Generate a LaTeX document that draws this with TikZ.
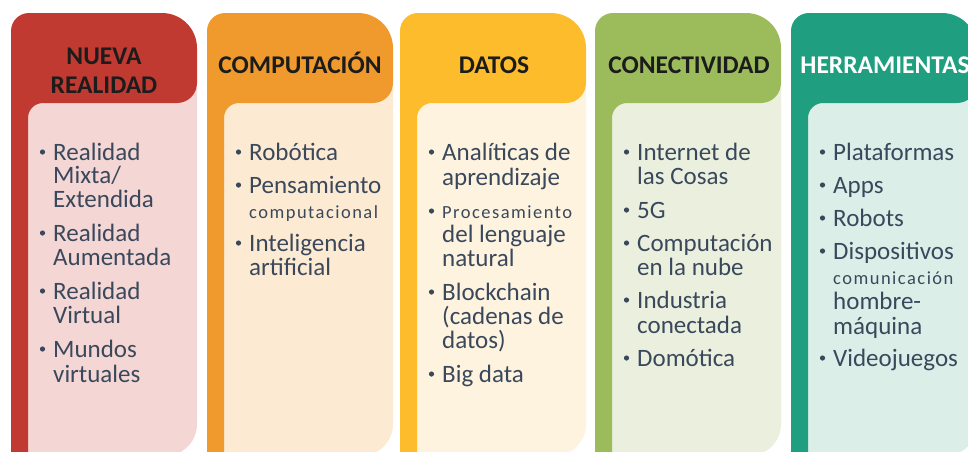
\documentclass[tikz,border=0pt]{standalone}
\usepackage{fontspec}
\setmainfont{Carlito}

\definecolor{nrDark}{HTML}{C13A31}
\definecolor{nrLight}{HTML}{F4D6D4}
\definecolor{coDark}{HTML}{F09A2D}
\definecolor{coLight}{HTML}{FDEAD2}
\definecolor{daDark}{HTML}{FCBC2C}
\definecolor{daLight}{HTML}{FEF3DF}
\definecolor{cnDark}{HTML}{9CBB5B}
\definecolor{cnLight}{HTML}{EBF0DE}
\definecolor{heDark}{HTML}{1F9F80}
\definecolor{heLight}{HTML}{DCEEE8}
\definecolor{itemText}{HTML}{3A485C}
\definecolor{headText}{HTML}{1C1C1C}

% One column: #1 left edge, #2 header colour, #3 body colour
\newcommand\columnshape[3]{%
  \fill[#3] ({#1+17},88) -- ({#1+186},88) -- ({#1+186},424)
     .. controls ({#1+186},441.7) and ({#1+171.7},456) .. ({#1+154},456)
     -- ({#1+17},456) -- cycle;
  \fill[#2] (#1,456) -- (#1,31)
     .. controls (#1,21.06) and ({#1+8.06},13) .. ({#1+18},13)
     -- ({#1+151},13)
     .. controls ({#1+170.3},13) and ({#1+186},28.7) .. ({#1+186},48)
     -- ({#1+186},83)
     .. controls ({#1+186},94.04) and ({#1+177.04},103) .. ({#1+166},103)
     -- ({#1+32},103)
     .. controls ({#1+23.72},103) and ({#1+17},109.72) .. ({#1+17},118)
     -- ({#1+17},456) -- cycle;
}

\begin{document}
\begin{tikzpicture}[x=1pt,y=-1pt,
  item/.style={anchor=base west, inner sep=0pt, text=itemText,
    font=\fontsize{25}{25}\selectfont},
  note/.style={anchor=base west, inner sep=0pt, text=itemText,
    font=\fontsize{18.5}{18.5}\selectfont\addfontfeature{LetterSpace=8}},
  dot/.style={circle, fill=itemText, inner sep=0pt, minimum size=5.2pt},
  head/.style={anchor=base, inner sep=0pt, text=headText,
    font=\fontsize{25.5}{25.5}\selectfont\bfseries}]
\useasboundingbox (0,0) rectangle (968,451);
\clip (0,0) rectangle (968,451);

\columnshape{11}{nrDark}{nrLight}
\columnshape{207}{coDark}{coLight}
\columnshape{400}{daDark}{daLight}
\columnshape{595}{cnDark}{cnLight}
\columnshape{791}{heDark}{heLight}

% Headers
\node[head] (h1a) at (104,64) {NUEVA};
\node[head] (h1b) at (104,93) {REALIDAD};
\node[head] (h2) at (300,73) {COMPUTACIÓN};
\node[head] (h3) at (494,73) {DATOS};
\node[head] (h4) at (689,73) {CONECTIVIDAD};
\node[head, text=white] (h5) at (885,73) {HERRAMIENTAS};

% Nueva realidad
\node[dot] (d1a) at (42.5,152) {};
\node[item] (t1a) at (53,160) {Realidad};
\node[item] (t1b) at (53,183) {Mixta/};
\node[item] (t1c) at (53,207) {Extendida};
\node[dot] (d1b) at (42.5,233) {};
\node[item] (t1d) at (53,241) {Realidad};
\node[item] (t1e) at (53,265) {Aumentada};
\node[dot] (d1c) at (42.5,291) {};
\node[item] (t1f) at (53,299) {Realidad};
\node[item] (t1g) at (53,323) {Virtual};
\node[dot] (d1d) at (42.5,349) {};
\node[item] (t1h) at (53,357) {Mundos};
\node[item] (t1i) at (53,382) {virtuales};

% Computación
\node[dot] (d2a) at (238.5,152) {};
\node[item] (t2a) at (249,160) {Robótica};
\node[dot] (d2b) at (238.5,185) {};
\node[item] (t2b) at (249,193) {Pensamiento};
\node[note] (t2c) at (249,218) {computacional};
\node[dot] (d2c) at (238.5,243) {};
\node[item] (t2d) at (249,251) {Inteligencia};
\node[item] (t2e) at (249,275) {artificial};

% Datos
\node[dot] (d3a) at (431.5,152) {};
\node[item] (t3a) at (442,160) {Analíticas de};
\node[item] (t3b) at (442,185) {aprendizaje};
\node[dot] (d3b) at (431.5,211) {};
\node[note] (t3c) at (442,218) {Procesamiento};
\node[item] (t3d) at (442,242) {del lenguaje};
\node[item] (t3e) at (442,266) {natural};
\node[dot] (d3c) at (431.5,292) {};
\node[item] (t3f) at (442,300) {Blockchain};
\node[item] (t3g) at (442,324) {(cadenas de};
\node[item] (t3h) at (442,348) {datos)};
\node[dot] (d3d) at (431.5,374) {};
\node[item] (t3i) at (442,382) {Big data};

% Conectividad
\node[dot] (d4a) at (626.5,152) {};
\node[item] (t4a) at (637,160) {Internet de};
\node[item] (t4b) at (637,184) {las Cosas};
\node[dot] (d4b) at (626.5,210) {};
\node[item] (t4c) at (637,218) {5G};
\node[dot] (d4c) at (626.5,243) {};
\node[item] (t4d) at (637,251) {Computación};
\node[item] (t4e) at (637,275) {en la nube};
\node[dot] (d4d) at (626.5,300) {};
\node[item] (t4f) at (637,308) {Industria};
\node[item] (t4g) at (637,333) {conectada};
\node[dot] (d4e) at (626.5,358) {};
\node[item] (t4h) at (637,366) {Domótica};

% Herramientas
\node[dot] (d5a) at (822.5,152) {};
\node[item] (t5a) at (833,160) {Plataformas};
\node[dot] (d5b) at (822.5,185) {};
\node[item] (t5b) at (833,193) {Apps};
\node[dot] (d5c) at (822.5,218) {};
\node[item] (t5c) at (833,226) {Robots};
\node[dot] (d5d) at (822.5,251) {};
\node[item] (t5d) at (833,259) {Dispositivos};
\node[note] (t5e) at (833,284) {comunicación};
\node[item] (t5f) at (833,309) {hombre-};
\node[item] (t5g) at (833,334) {máquina};
\node[dot] (d5e) at (822.5,358) {};
\node[item] (t5h) at (833,366) {Videojuegos};
\end{tikzpicture}
\end{document}
